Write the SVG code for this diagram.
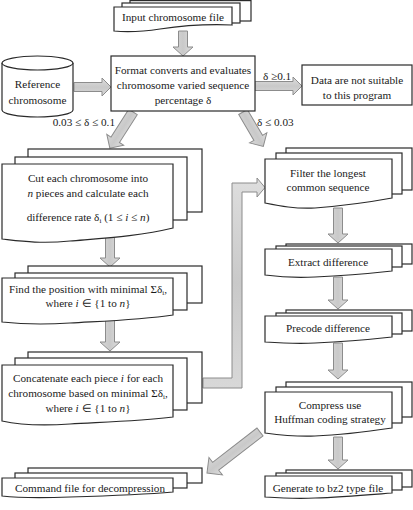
<svg xmlns="http://www.w3.org/2000/svg" width="413" height="510" viewBox="0 0 413 510" font-family="'Liberation Serif', serif">
<style>
.bx{fill:#fff;stroke:#2a2a2a;stroke-width:1.2}
.ar{fill:url(#ag);stroke:#8c8c8c;stroke-width:1}
text{font-family:'Liberation Serif',serif;font-size:11.2px;fill:#1a1a1a}
.c{text-anchor:middle}
.i{font-style:italic}
</style>
<defs>
<linearGradient id="ag" x1="0" y1="0" x2="0" y2="1">
<stop offset="0" stop-color="#dedede"/>
<stop offset="0.5" stop-color="#c9c9c9"/>
<stop offset="1" stop-color="#d8d8d8"/>
</linearGradient>
</defs>
<rect width="413" height="510" fill="#fff"/>

<g id="connectors">
<polygon class="ar" transform="translate(183,31) rotate(90)" points="0,-4.5 16,-4.5 16,-10 25,0 16,10 16,4.5 0,4.5"/>
<polygon class="ar" transform="translate(74,87)" points="0,-4.5 28,-4.5 28,-9 37,0 28,9 28,4.5 0,4.5"/>
<polygon class="ar" transform="translate(255,86)" points="0,-4.5 38,-4.5 38,-9 47,0 38,9 38,4.5 0,4.5"/>
<polygon class="ar" transform="translate(133,112) rotate(122.6)" points="0,-5 33,-5 33,-10 43,0 33,10 33,5 0,5"/>
<polygon class="ar" transform="translate(243,112) rotate(59.5)" points="0,-5 30,-5 30,-10 40,0 30,10 30,5 0,5"/>
<polygon class="ar" transform="translate(110,236) rotate(90)" points="0,-4.5 22,-4.5 22,-10 31,0 22,10 22,4.5 0,4.5"/>
<polygon class="ar" transform="translate(110,320) rotate(90)" points="0,-4.5 22,-4.5 22,-10 31,0 22,10 22,4.5 0,4.5"/>
<polygon class="ar" transform="translate(338,208) rotate(90)" points="0,-4.5 26,-4.5 26,-10 35,0 26,10 26,4.5 0,4.5"/>
<polygon class="ar" transform="translate(338,277) rotate(90)" points="0,-4.5 23,-4.5 23,-10 32,0 23,10 23,4.5 0,4.5"/>
<polygon class="ar" transform="translate(338,343) rotate(90)" points="0,-4.5 27,-4.5 27,-10 36,0 27,10 27,4.5 0,4.5"/>
<polygon class="ar" transform="translate(338,437) rotate(90)" points="0,-4.5 23,-4.5 23,-10 32,0 23,10 23,4.5 0,4.5"/>
<polygon class="ar" transform="translate(260,432) rotate(142.3)" points="0,-5 56,-5 56,-11 67,0 56,11 56,5 0,5"/>
<path class="ar" d="M203,378 H232 V183 H257 V178 L265,187.5 L257,197 V192 H242 V388 H203 Z"/>
<text x="263" y="80">δ ≥0.1</text>
<text x="115" y="126" text-anchor="end">0.03 ≤ δ ≤ 0.1</text>
<text x="257" y="126">δ ≤ 0.03</text>
</g>

<g id="input">
<rect class="bx" x="130" y="0.6" width="121" height="20.4"/>
<rect class="bx" x="122" y="3" width="118" height="20"/>
<path class="bx" d="M114,7 H232 V25 C208,24 180,26 160,29 C140,32 125,32 114,31 Z"/>
<text class="c" x="173" y="21">Input chromosome file</text>
</g>

<g id="format">
<rect class="bx" x="111" y="56" width="144" height="55"/>
<text class="c" x="183" y="74">Format converts and evaluates</text>
<text class="c" x="183" y="89">chromosome varied sequence</text>
<text class="c" x="183" y="104">percentage δ</text>
</g>

<g id="reference">
<path class="bx" d="M2,63 A35.5,7 0 0 1 73,63 V110 A35.5,7 0 0 1 2,110 Z"/>
<path class="bx" fill="none" d="M2,63 A35.5,7 0 0 0 73,63"/>
<text class="c" x="37.5" y="88">Reference</text>
<text class="c" x="37.5" y="104">chromosome</text>
</g>

<g id="notsuitable">
<rect class="bx" x="302" y="65" width="110" height="40"/>
<text class="c" x="357" y="84">Data are not suitable</text>
<text class="c" x="357" y="99">to this program</text>
</g>

<g id="cut">
<rect class="bx" x="28" y="149" width="174" height="63"/>
<rect class="bx" x="15" y="157" width="172" height="63"/>
<path class="bx" d="M2,164 H173 V228 C140,236 105,238 70,241 C40,244 20,241 2,239 Z"/>
<text class="c" x="88" y="182">Cut each chromosome into</text>
<text class="c" x="88" y="197"><tspan class="i">n</tspan> pieces and calculate each</text>
<text class="c" x="88" y="221">difference rate δ<tspan font-size="7" dy="2">i</tspan><tspan dy="-2">  (1 ≤ </tspan><tspan class="i">i</tspan> ≤ <tspan class="i">n</tspan>)</text>
</g>

<g id="find">
<rect class="bx" x="28" y="266" width="174" height="37"/>
<rect class="bx" x="15" y="273" width="172" height="37"/>
<path class="bx" d="M2,278 H173 V315 C140,320 105,321 70,323 C40,325 20,324 2,322 Z"/>
<text class="c" x="88" y="293">Find the position with minimal Σδ<tspan font-size="7" dy="2">i</tspan><tspan dy="-2">,</tspan></text>
<text class="c" x="88" y="307">where  <tspan class="i">i</tspan> ∈ {1 to <tspan class="i">n</tspan>}</text>
</g>

<g id="concat">
<rect class="bx" x="28" y="352" width="174" height="51"/>
<rect class="bx" x="15" y="358" width="172" height="52"/>
<path class="bx" d="M2,365 H173 V417 C140,421 105,422 70,424 C40,426 20,425 2,421 Z"/>
<text class="c" x="88" y="382">Concatenate each piece <tspan class="i">i</tspan> for each</text>
<text class="c" x="88" y="397">chromosome based on minimal Σδ<tspan font-size="7" dy="2">i</tspan><tspan dy="-2">,</tspan></text>
<text class="c" x="88" y="412">where  <tspan class="i">i</tspan> ∈ {1 to <tspan class="i">n</tspan>}</text>
</g>

<g id="command">
<rect class="bx" x="28" y="468" width="174" height="15"/>
<rect class="bx" x="15" y="473" width="172" height="15"/>
<path class="bx" d="M2,478 H173 V492 C140,495 105,496 70,497 C40,498 20,498 2,496 Z"/>
<text class="c" x="90" y="492">Command file for decompression</text>
</g>

<g id="filter">
<rect class="bx" x="286" y="148" width="126" height="42"/>
<rect class="bx" x="276" y="153" width="126" height="41"/>
<path class="bx" d="M265,159 H392 V198 C365,203 340,206 315,208 C295,209 280,206 265,203 Z"/>
<text class="c" x="328" y="177">Filter the longest</text>
<text class="c" x="328" y="191">common sequence</text>
</g>

<g id="extract">
<rect class="bx" x="286" y="244" width="126" height="20"/>
<rect class="bx" x="276" y="246" width="126" height="21"/>
<path class="bx" d="M265,249 H392 V271 C365,274 340,276 315,277 C295,278 280,277 265,275 Z"/>
<text class="c" x="328" y="266">Extract difference</text>
</g>

<g id="precode">
<rect class="bx" x="286" y="310" width="126" height="21"/>
<rect class="bx" x="276" y="313" width="126" height="21"/>
<path class="bx" d="M265,316 H392 V337 C365,340 340,342 315,343 C295,344 280,343 265,342 Z"/>
<text class="c" x="328" y="332">Precode difference</text>
</g>

<g id="compress">
<rect class="bx" x="286" y="382" width="126" height="35"/>
<rect class="bx" x="276" y="387" width="126" height="36"/>
<path class="bx" d="M265,392 H392 V428 C365,432 340,435 315,436 C295,437 280,435 265,433 Z"/>
<text class="c" x="330" y="409">Compress use</text>
<text class="c" x="330" y="423">Huffman coding strategy</text>
</g>

<g id="generate">
<rect class="bx" x="286" y="470" width="126" height="17"/>
<rect class="bx" x="276" y="473" width="126" height="17"/>
<path class="bx" d="M265,476 H392 V493 C365,495 340,497 315,498 C295,499 280,498 265,497 Z"/>
<text class="c" x="328" y="492">Generate to bz2 type file</text>
</g>
</svg>
